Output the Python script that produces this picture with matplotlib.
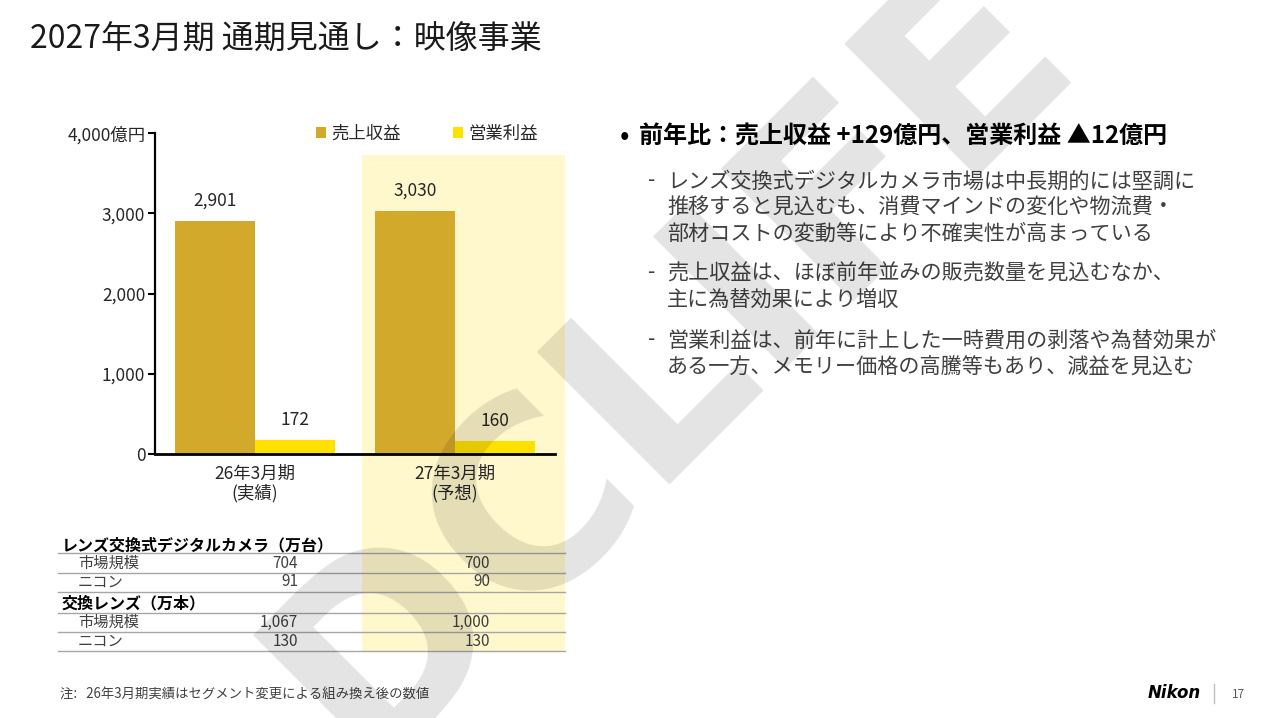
import matplotlib
matplotlib.use('Agg')
from matplotlib import pyplot as plt
from matplotlib.patches import Rectangle
from matplotlib.lines import Line2D
import numpy as np

plt.rcParams['font.family'] = ['Noto Sans CJK JP', 'DejaVu Sans']

# Data
categories = ['26年3月期\n(実績)', '27年3月期\n(予想)']
series_names = ['売上収益', '営業利益']
revenue = [2901, 3030]
op_profit = [172, 160]
y_ticks = [0, 1000, 2000, 3000, 4000]
y_tick_labels = ['0', '1,000', '2,000', '3,000', '4,000億円']

table_sections = ['レンズ交換式デジタルカメラ（万台）', '交換レンズ（万本）']
table_rows = ['市場規模', 'ニコン']
camera_actual = ['704', '91']
camera_forecast = ['700', '90']
lens_actual = ['1,067', '130']
lens_forecast = ['1,000', '130']

title = '2027年3月期 通期見通し：映像事業'
headline = '前年比：売上収益 +129億円、営業利益 ▲12億円'
comments = [
    'レンズ交換式デジタルカメラ市場は中長期的には堅調に\n推移すると見込むも、消費マインドの変化や物流費・\n部材コストの変動等により不確実性が高まっている',
    '売上収益は、ほぼ前年並みの販売数量を見込むなか、\n主に為替効果により増収',
    '営業利益は、前年に計上した一時費用の剥落や為替効果が\nある一方、メモリー価格の高騰等もあり、減益を見込む',
]
footnote = '注:   26年3月期実績はセグメント変更による組み換え後の数値'
page_no = '17'

# Parameters
W, H = 1280, 718
rev_colour = '#D3A92C'
op_colour = '#FFE100'
band_colour = '#FFF8CC'
text_colour = '#262626'


def fx(px):
    return px / W


def fy(py):
    return 1 - py / H


fig = plt.figure(figsize=(12.8, 7.18), dpi=100)
fig.patch.set_facecolor('white')

# forecast highlight band (behind the axes)
fig.patches.append(Rectangle((fx(362), fy(652)), fx(565) - fx(362), fy(155) - fy(652),
                             transform=fig.transFigure, facecolor=band_colour,
                             edgecolor='none', zorder=-1))

# Chart
ax = fig.add_axes([fx(155), fy(454), fx(555) - fx(155), fy(133) - fy(454)])
ax.patch.set_alpha(0)
ax.set_zorder(1)
x = np.arange(len(categories))
w = 0.4
b1 = ax.bar(x - w / 2, revenue, w, color=rev_colour, label=series_names[0], zorder=2)
b2 = ax.bar(x + w / 2, op_profit, w, color=op_colour, label=series_names[1], zorder=2)
ax.bar_label(b1, labels=[f'{v:,}' for v in revenue], padding=8, fontsize=12.5, color=text_colour)
ax.bar_label(b2, labels=[f'{v:,}' for v in op_profit], padding=8, fontsize=12.5, color=text_colour)

ax.set_xlim(-0.5, 1.5)
ax.set_ylim(0, 4000)
ax.set_yticks(y_ticks)
ax.set_yticklabels(y_tick_labels, fontsize=12.5, color=text_colour)
ax.set_xticks(x)
ax.set_xticklabels(categories, fontsize=12.5, color=text_colour, linespacing=1.05)
ax.tick_params(axis='x', length=0, pad=8)
ax.tick_params(axis='y', length=5, width=1.5, pad=2)
for s in ['top', 'right']:
    ax.spines[s].set_visible(False)
ax.spines['left'].set_linewidth(1.6)
ax.spines['bottom'].set_linewidth(2)

fig.legend(handles=[b1, b2], labels=series_names, loc='center', ncol=2,
           bbox_to_anchor=(fx(427), fy(134)), frameon=False, fontsize=12.5,
           handlelength=0.6, handleheight=0.6, handletextpad=0.3, columnspacing=3.0,
           labelcolor=text_colour)

# Table
row_y = [[563, 582], [622, 641]]
section_y = [545, 603]
line_y = [553, 573, 592, 613, 632, 651]
actual = [camera_actual, lens_actual]
forecast = [camera_forecast, lens_forecast]
for i, sec in enumerate(table_sections):
    fig.text(fx(62), fy(section_y[i]), sec, fontsize=11.5, fontweight='bold',
             color='black', va='center')
    for j, r in enumerate(table_rows):
        fig.text(fx(78), fy(row_y[i][j]), r, fontsize=11, color='#404040', va='center')
        fig.text(fx(298), fy(row_y[i][j]), actual[i][j], fontsize=11, color='#404040',
                 va='center', ha='right')
        fig.text(fx(490), fy(row_y[i][j]), forecast[i][j], fontsize=11, color='#404040',
                 va='center', ha='right')
for ly in line_y:
    fig.lines.append(Line2D([fx(58), fx(565)], [fy(ly), fy(ly)], transform=fig.transFigure,
                            color='#a6a6a6', linewidth=1.0))

# Title and commentary
fig.text(fx(30), fy(40), title, fontsize=23, color='#1a1a1a', va='center')
fig.text(fx(620), fy(137), '•', fontsize=20, color='black', va='center')
fig.text(fx(639), fy(137), headline, fontsize=17.3, fontweight='bold', color='black', va='center')
comment_top = [180, 272, 339]
for cy, c in zip(comment_top, comments):
    fig.text(fx(648), fy(cy), '-', fontsize=15, color='#404040', va='center')
    fig.text(fx(667), fy(cy - 9), c, fontsize=15.2, color='#404040', va='top',
             linespacing=1.22)

# Footer
fig.text(fx(60), fy(695), footnote, fontsize=9.6, color='#404040', va='center')
fig.text(fx(1201), fy(693), 'Nikon', fontsize=12, fontweight='heavy', style='italic',
         family='DejaVu Sans', color='black', va='center', ha='right')
fig.lines.append(Line2D([fx(1214), fx(1214)], [fy(684), fy(703)], transform=fig.transFigure,
                        color='#bfbfbf', linewidth=1))
fig.text(fx(1232), fy(694), page_no, fontsize=8.5, color='#595959', va='center')

# watermark
fig.text(fx(670), fy(360), 'DCLIFE', fontsize=185, fontweight='bold', family='DejaVu Sans',
         color='black', alpha=0.11, rotation=45, rotation_mode='anchor',
         ha='center', va='center', zorder=10)

fig.savefig('out.png', dpi=100)
